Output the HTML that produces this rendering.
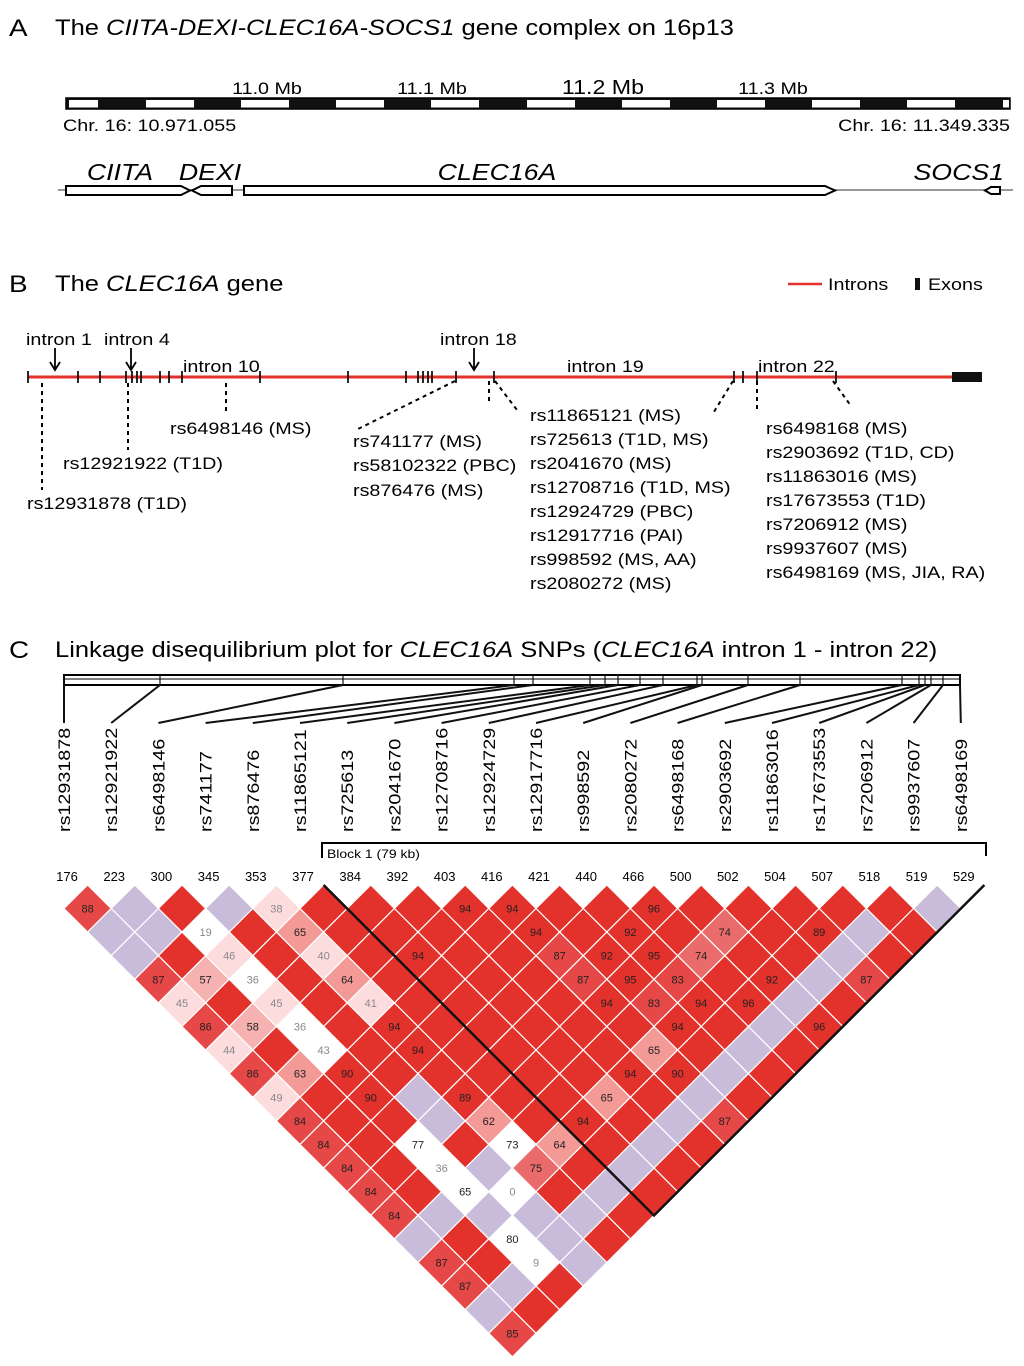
<!DOCTYPE html>
<html><head><meta charset="utf-8">
<style>
html,body{margin:0;padding:0;background:#fff;}
svg{display:block;font-family:"Liberation Sans",Arial,sans-serif;}
</style></head>
<body>
<svg id="fig" width="1024" height="1366" viewBox="0 0 1024 1366" xmlns="http://www.w3.org/2000/svg">
<!-- Panel A -->
<g>
<text x="9" y="36" font-size="24">A</text>
<text x="55" y="35" font-size="22">The <tspan font-style="italic">CIITA-DEXI-CLEC16A-SOCS1</tspan> gene complex on 16p13</text>
<text x="267" y="94" font-size="17" text-anchor="middle">11.0 Mb</text>
<text x="432" y="94" font-size="17" text-anchor="middle">11.1 Mb</text>
<text x="603" y="94" font-size="20" text-anchor="middle">11.2 Mb</text>
<text x="773" y="94" font-size="17" text-anchor="middle">11.3 Mb</text>
<g id="chrbar"></g>
<text x="63" y="131" font-size="17">Chr. 16: 10.971.055</text>
<text x="1010" y="131" font-size="17" text-anchor="end">Chr. 16: 11.349.335</text>
<line x1="58" y1="190" x2="1013" y2="190" stroke="#999" stroke-width="2"/>
<g>
<polygon points="66,186 181,186 190,190.5 181,195 66,195" fill="#fff" stroke="#000" stroke-width="2"/>
<text x="120" y="180" font-size="23" font-style="italic" text-anchor="middle">CIITA</text></g>
<g>
<polygon points="232,186 201,186 192,190.5 201,195 232,195" fill="#fff" stroke="#000" stroke-width="2"/>
<text x="210" y="180" font-size="23" font-style="italic" text-anchor="middle">DEXI</text></g>
<g>
<polygon points="244,186 825,186 835,190.5 825,195 244,195" fill="#fff" stroke="#000" stroke-width="2"/>
<text x="497" y="180" font-size="23" font-style="italic" text-anchor="middle">CLEC16A</text></g>
<g>
<polygon points="1000,187 991,187 985,190.5 991,194 1000,194" fill="#fff" stroke="#000" stroke-width="2"/>
<text x="1004" y="180" font-size="23" font-style="italic" text-anchor="end">SOCS1</text></g>
</g>

<!-- Panel B -->
<g>
<text x="9" y="292" font-size="24">B</text>
<text x="55" y="291" font-size="22">The <tspan font-style="italic">CLEC16A</tspan> gene</text>
<line x1="788" y1="284" x2="822" y2="284" stroke="#e3312b" stroke-width="2.5"/>
<text x="828" y="290" font-size="17">Introns</text>
<rect x="915" y="278" width="5" height="12" fill="#111"/>
<text x="928" y="290" font-size="17">Exons</text>
<line x1="28" y1="377" x2="952" y2="377" stroke="#e3312b" stroke-width="3"/>
<rect x="952" y="372" width="30" height="10" fill="#111"/>
<g id="exons"></g>
<g font-size="17">
<text x="26" y="345">intron 1</text>
<text x="104" y="345">intron 4</text>
<text x="440" y="345">intron 18</text>
<text x="183" y="372">intron 10</text>
<text x="567" y="372">intron 19</text>
<text x="758" y="372">intron 22</text>
</g>
<g stroke="#000" stroke-width="1.8" fill="none">
<line x1="55" y1="348" x2="55" y2="369"/><polyline points="50,362 55,370 60,362"/>
<line x1="131" y1="348" x2="131" y2="369"/><polyline points="126,362 131,370 136,362"/>
<line x1="474" y1="348" x2="474" y2="369"/><polyline points="469,362 474,370 479,362"/>
</g>
<g stroke="#000" stroke-width="2" stroke-dasharray="4,4" fill="none">
<line x1="42" y1="383" x2="42" y2="490"/>
<line x1="128" y1="383" x2="128" y2="450"/>
<line x1="226" y1="383" x2="226" y2="412"/>
<line x1="455" y1="381" x2="356" y2="430"/>
<line x1="489" y1="381" x2="489" y2="404"/>
<line x1="495" y1="381" x2="517" y2="410"/>
<line x1="733" y1="381" x2="712" y2="415"/>
<line x1="757" y1="381" x2="757" y2="411"/>
<line x1="833" y1="381" x2="851" y2="406"/>
</g>
<g font-size="17">
<text x="170" y="434">rs6498146 (MS)</text>
<text x="63" y="469">rs12921922 (T1D)</text>
<text x="27" y="509">rs12931878 (T1D)</text>
<text x="353" y="447">rs741177 (MS)</text>
<text x="353" y="471">rs58102322 (PBC)</text>
<text x="353" y="496">rs876476 (MS)</text>
<text x="530" y="421">rs11865121 (MS)</text>
<text x="530" y="445">rs725613 (T1D, MS)</text>
<text x="530" y="469">rs2041670 (MS)</text>
<text x="530" y="493">rs12708716 (T1D, MS)</text>
<text x="530" y="517">rs12924729 (PBC)</text>
<text x="530" y="541">rs12917716 (PAI)</text>
<text x="530" y="565">rs998592 (MS, AA)</text>
<text x="530" y="589">rs2080272 (MS)</text>
<text x="766" y="434">rs6498168 (MS)</text>
<text x="766" y="458">rs2903692 (T1D, CD)</text>
<text x="766" y="482">rs11863016 (MS)</text>
<text x="766" y="506">rs17673553 (T1D)</text>
<text x="766" y="530">rs7206912 (MS)</text>
<text x="766" y="554">rs9937607 (MS)</text>
<text x="766" y="578">rs6498169 (MS, JIA, RA)</text>
</g>
</g>

<!-- Panel C -->
<g>
<text x="9" y="658" font-size="24">C</text>
<text x="55" y="657" font-size="22">Linkage disequilibrium plot for <tspan font-style="italic">CLEC16A</tspan> SNPs (<tspan font-style="italic">CLEC16A</tspan> intron 1 - intron 22)</text>
<rect x="64" y="675" width="896" height="10" fill="#fff" stroke="#000" stroke-width="2"/>
<line x1="64" y1="679" x2="960" y2="679" stroke="#000" stroke-width="1"/>
<g id="mapping"></g>
<g id="snplabels"></g>
<g>
<polyline points="322,858 322,843 986,843 986,856" fill="none" stroke="#000" stroke-width="2"/>
<text x="327" y="858" font-size="12">Block 1 (79 kb)</text></g>
<g id="poslabels"></g>
<g id="ldcells"></g>
<polyline points="323.6,885 654,1215.5 984.4,885" fill="none" stroke="#111" stroke-width="2.5"/>
</g>
</svg>
<script>
const NS = 'http://www.w3.org/2000/svg';
// ---- data ----
const snpNames = ['rs12931878','rs12921922','rs6498146','rs741177','rs876476','rs11865121','rs725613','rs2041670','rs12708716','rs12924729','rs12917716','rs998592','rs2080272','rs6498168','rs2903692','rs11863016','rs17673553','rs7206912','rs9937607','rs6498169'];
const snpPositionsKb = [176,223,300,345,353,377,384,392,403,416,421,440,466,500,502,504,507,518,519,529];
const mapTicks = [64,160,343,514,533,590,605,618,640,663,697,702,748,800,902,919,925,931,943,960];
const exonTicks = [28,78,100,126,132,137,141,160,169,182,260,348,406,418,423,428,432,456,494,734,743,757,836];
const chrWhiteStarts = [69,146,241,336,431,527,622,717,812,907,1003];
const chrWhiteWidths = [29,48,48,48,48,48,48,48,48,48,6];
// LD rows: row d holds pairs (i, i+d+1). R=D' 1 unlabeled, P=low LOD (purple), number=D' (%), prefix = shade
const ldRow0 = ['88','P','R','P','l38','R','R','R','94','94','R','R','96','R','R','R','R','R','P'];
const ldRow1 = ['P','P','w19','R','m65','R','R','R','R','94','R','92','R','s74','R','89','P','R'];
const ldRow2 = ['P','R','l46','R','l40','R','94','R','R','87','92','95','s74','R','R','P','R'];
const ldRow3 = ['87','k57','w36','R','m64','R','R','R','R','87','95','83','R','92','P','87'];
const ldRow4 = ['l45','R','l45','R','l41','R','R','R','R','94','83','94','96','P','R'];
const ldRow5 = ['86','k58','w36','R','94','R','R','R','R','R','94','R','P','96'];
const ldRow6 = ['l44','R','w43','R','94','R','R','R','R','m65','R','P','R'];
const ldRow7 = ['86','m63','90','R','R','R','R','R','94','90','P','R'];
const ldRow8 = ['l49','R','90','P','89','R','R','m65','R','P','R'];
const ldRow9 = ['84','R','R','P','m62','R','94','R','P','87'];
const ldRow10 = ['84','R','w77','R','w73','m64','R','P','R'];
const ldRow11 = ['84','R','w36','P','s75','R','P','R'];
const ldRow12 = ['84','R','w65','w0','R','P','R'];
const ldRow13 = ['84','P','P','P','P','R'];
const ldRow14 = ['P','R','w80','P','R'];
const ldRow15 = ['87','R','w9','P'];
const ldRow16 = ['87','P','R'];
const ldRow17 = ['P','R'];
const ldRow18 = ['85'];
const ldRows = [ldRow0,ldRow1,ldRow2,ldRow3,ldRow4,ldRow5,ldRow6,ldRow7,ldRow8,ldRow9,ldRow10,ldRow11,ldRow12,ldRow13,ldRow14,ldRow15,ldRow16,ldRow17,ldRow18];

// ---- geometry ----
const X0 = 64, STEP = 47.2, Y0 = 908.5, HALF = 23.6;
function colX(k){ return X0 + k*STEP; }
function cellCx(i,j){ return (colX(i)+colX(j))/2; }
function cellCy(i,j){ return Y0 + (j-i-1)*HALF; }
function mk(tag, attrs, parent){
  const e = document.createElementNS(NS, tag);
  for (const k in attrs) e.setAttribute(k, attrs[k]);
  parent.appendChild(e); return e;
}

// stretch regular labels to match reference's wider typeface (before adding cell values)
document.querySelectorAll('#fig text').forEach(t=>{
  const w = t.getComputedTextLength();
  if (w>0){ t.setAttribute('textLength', (w*1.16).toFixed(1)); t.setAttribute('lengthAdjust','spacingAndGlyphs'); }
});

// chromosome bar
const cb = document.getElementById('chrbar');
const chrRect = mk('rect',{x:66,y:98,width:944,height:11,fill:'#111',stroke:'#000','stroke-width':1.5},cb);


chrWhiteStarts.forEach((s,idx)=>{
  const r = mk('rect',{x:s,y:100,width:chrWhiteWidths[idx],height:7.5,fill:'#fff'},cb);
  
  
});

// exons
const ex = document.getElementById('exons');
exonTicks.forEach(x=>{
  const l = mk('line',{x1:x,y1:371,x2:x,y2:383,stroke:'#111','stroke-width':1.8},ex);
  
  
});

// mapping lines and labels
const mp = document.getElementById('mapping');
const sl = document.getElementById('snplabels');
const pl = document.getElementById('poslabels');
snpNames.forEach((nm,k)=>{
  const lx = colX(k);
  const ln = mk('line',{x1:mapTicks[k],y1:685,x2:lx,y2:723,stroke:'#111','stroke-width':2},mp);
  
  
  const tk = mk('line',{x1:mapTicks[k],y1:675,x2:mapTicks[k],y2:685,stroke:'#111','stroke-width':1.2},mp);
  
  
  const t = mk('text',{x:0,y:0,'font-size':17,transform:`translate(${lx+6},832) rotate(-90)`},sl);
  t.textContent = nm;
  
  
  const w = t.getComputedTextLength();
  if (w>0){ t.setAttribute('textLength',(w*1.16).toFixed(1)); t.setAttribute('lengthAdjust','spacingAndGlyphs'); }
  const p = mk('text',{x:lx+3,y:881,'font-size':13,'text-anchor':'middle'},pl);
  p.textContent = snpPositionsKb[k];
  
  
});

// LD cells
const ld = document.getElementById('ldcells');
function cellStyle(tok){
  if (tok==='R') return {fill:'#e3312b', val:null};
  if (tok==='P') return {fill:'#c9bcda', val:null};
  const c = tok[0];
  if (/[0-9]/.test(c)){ const v=+tok; return {fill: v>=89?'#e3312b':'#e54846', val:v}; }
  const v = +tok.slice(1);
  const fills = {w:'#ffffff', l:'#fcdcdc', m:'#f39a97', k:'#f5b2b0', s:'#ea6b6b'};
  return {fill:fills[c], val:v};
}
ldRows.forEach((row,d)=>{
  row.forEach((tok,i)=>{
    const j = i+d+1;
    const cx = cellCx(i,j), cy = cellCy(i,j);
    const st = cellStyle(tok);
    const pg = mk('polygon',{points:`${cx},${cy-HALF} ${cx+HALF},${cy} ${cx},${cy+HALF} ${cx-HALF},${cy}`,fill:st.fill,stroke:'#fff','stroke-width':1.2},ld);
    
    
    if (st.val!==null){
      const t = mk('text',{x:cx,y:cy+4,'font-size':11,'text-anchor':'middle',fill:(st.val<50?'#888':'#222')},ld);
      t.textContent = st.val;
      
      
    }
  });
});
</script>
</body></html>
